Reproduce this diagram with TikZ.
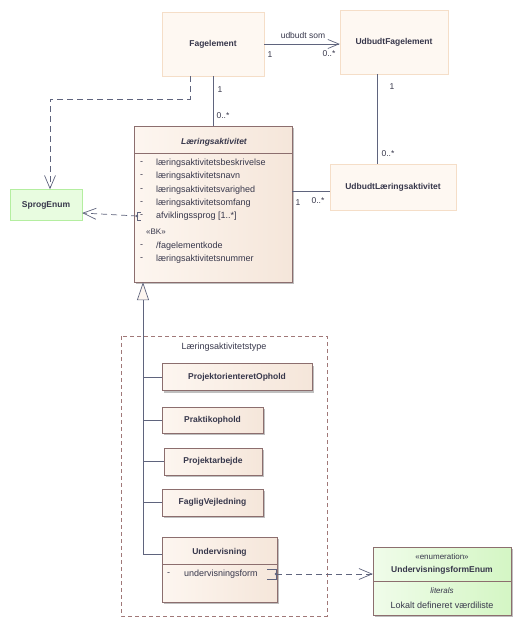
\documentclass[tikz,border=0pt]{standalone}
\usepackage{fontspec}
\setmainfont{Liberation Sans}
\usetikzlibrary{arrows.meta, shadows}
\definecolor{txt}{RGB}{55, 55, 75}
\definecolor{wire}{RGB}{95, 100, 125}
\definecolor{plainfill}{RGB}{254, 248, 242}
\definecolor{plainborder}{RGB}{245, 222, 200}
\definecolor{classlight}{RGB}{253, 246, 240}
\definecolor{classfill}{RGB}{245, 230, 218}
\definecolor{classborder}{RGB}{140, 110, 110}
\definecolor{greenfill}{RGB}{232, 252, 224}
\definecolor{greenborder}{RGB}{180, 238, 160}
\definecolor{enumlight}{RGB}{240, 252, 234}
\definecolor{enumfill}{RGB}{212, 246, 196}
\definecolor{pkgborder}{RGB}{160, 120, 120}

\begin{document}
\begin{tikzpicture}[x=1pt, y=-1pt,
    every node/.style={text=txt, font=\fontsize{9}{10}\selectfont},
    plain/.style={rectangle, draw=plainborder, fill=plainfill,
                  font=\fontsize{8.5}{10}\selectfont\bfseries},
    green/.style={rectangle, draw=greenborder, fill=greenfill,
                  font=\fontsize{8.5}{10}\selectfont\bfseries},
    klasse/.style={rectangle, draw=classborder, left color=classlight, right color=classfill,
                   drop shadow={shadow xshift=2pt, shadow yshift=-2pt, fill=black, opacity=0.25},
                   font=\fontsize{8.5}{10}\selectfont\bfseries},
    attr/.style={anchor=west, inner sep=0pt},
    mult/.style={inner sep=0pt, font=\fontsize{8.5}{10}\selectfont},
    assoc/.style={draw=wire, line width=0.7pt},
    dep/.style={draw=wire, line width=0.7pt, dash pattern=on 6pt off 4pt,
                -{Straight Barb[length=13pt, width=11pt]}}]

    \useasboundingbox (0,0) rectangle (522,626);

    % Package
    \draw[pkgborder, line width=0.6pt, dash pattern=on 4pt off 3pt] (121,336) rectangle (327,616);
    \node (pkg) at (224,347) {Læringsaktivitetstype};

    % Classes
    \node[plain, minimum width=102pt, minimum height=64pt] (fag) at (213,44) {Fagelement};
    \node[plain, minimum width=108pt, minimum height=64pt] (ufag) at (394,42) {UdbudtFagelement};
    \node[plain, minimum width=126pt, minimum height=46pt] (ulakt) at (393,187) {UdbudtLæringsaktivitet};
    \node[green, minimum width=72pt, minimum height=31pt] (sprog) at (46,205) {SprogEnum};

    \node[klasse, minimum width=158pt, minimum height=156pt] (lakt) at (213,204) {};
    \draw[classborder] ([yshift=-27pt]lakt.north west) -- ([yshift=-27pt]lakt.north east);
    \node[font=\fontsize{8.5}{10}\selectfont\bfseries\itshape] at (214,142) {Læringsaktivitet};
    \node[attr] at (140,163) {-};
    \node[attr] at (156,163) {læringsaktivitetsbeskrivelse};
    \node[attr] at (140,176.5) {-};
    \node[attr] at (156,176.5) {læringsaktivitetsnavn};
    \node[attr] at (140,190) {-};
    \node[attr] at (156,190) {læringsaktivitetsvarighed};
    \node[attr] at (140,203) {-};
    \node[attr] at (156,203) {læringsaktivitetsomfang};
    \node[attr] at (140,216.5) {-};
    \node[attr] (afv) at (156,216.5) {afviklingssprog [1..*]};
    \node[attr, font=\fontsize{8}{10}\selectfont] at (146,232) {«BK»};
    \node[attr] at (140,246) {-};
    \node[attr] at (156,246) {/fagelementkode};
    \node[attr] at (140,259.5) {-};
    \node[attr] at (156,259.5) {læringsaktivitetsnummer};
    \draw[wire, line width=0.6pt] (141,212) -- (137,212) -- (137,220) -- (141,220);
    \coordinate (afvport) at (137,216);

    % Subtypes
    \node[klasse, minimum width=150pt, minimum height=27pt] (projoph) at (237,377) {ProjektorienteretOphold};
    \node[klasse, minimum width=101pt, minimum height=26pt] (praktik) at (212.5,420) {Praktikophold};
    \node[klasse, minimum width=98pt, minimum height=27pt] (projarb) at (213,461.5) {Projektarbejde};
    \node[klasse, minimum width=101pt, minimum height=27pt] (fagvej) at (212.5,502.5) {FagligVejledning};

    \node[klasse, minimum width=115pt, minimum height=65pt] (und) at (219.5,569.5) {};
    \draw[classborder] ([yshift=-27pt]und.north west) -- ([yshift=-27pt]und.north east);
    \node at (219.5,552) {\bfseries\fontsize{8.5}{10}\selectfont Undervisning};
    \node[attr] at (167,574) {-};
    \node[attr] at (184,574) {undervisningsform};
    \draw[wire, line width=0.6pt] (267,569) -- (276,569) -- (276,579) -- (267,579);
    \coordinate (undport) at (276,574);

    % Enumeration
    \node[rectangle, draw=classborder, left color=enumlight, right color=enumfill,
          drop shadow={shadow xshift=2pt, shadow yshift=-2pt, fill=black, opacity=0.25},
          minimum width=138pt, minimum height=68pt] (uenum) at (442,581) {};
    \draw[classborder] ([yshift=-34pt]uenum.north west) -- ([yshift=-34pt]uenum.north east);
    \node[font=\fontsize{8}{10}\selectfont] at (442,557) {«enumeration»};
    \node at (442,570) {\bfseries\fontsize{8.5}{10}\selectfont UndervisningsformEnum};
    \node[font=\fontsize{8}{10}\selectfont\itshape] at (442,591) {literals};
    \node at (442,605) {Lokalt defineret værdiliste};

    % Associations
    \draw[assoc, -{Straight Barb[length=11pt, width=9pt]}] (fag.east) -- (fag.east -| ufag.west);
    \node[mult] at (303,35) {udbudt som};
    \node[mult] at (270,55) {1};
    \node[mult] at (329,54) {0..*};
    \draw[assoc] (fag.south) -- (lakt.north);
    \node[mult] at (220,90) {1};
    \node[mult] at (223,116) {0..*};
    \draw[assoc] ([xshift=-17pt]ufag.south) -- ([xshift=-16pt]ulakt.north);
    \node[mult] at (392,87) {1};
    \node[mult] at (388,154) {0..*};
    \draw[assoc] ([yshift=-4pt]ulakt.west -| lakt.east) -- ([yshift=-4pt]ulakt.west);
    \node[mult] at (298,203) {1};
    \node[mult] at (318,201) {0..*};

    % Dependencies
    \draw[dep] ([xshift=-23pt]fag.south) -- ++(0,23) -| ([xshift=4pt]sprog.north);
    \fill[wire] (afvport) circle (1.3pt);
    \draw[dep] (afvport) -- ([yshift=-8pt]sprog.east);
    \fill[wire] (undport) circle (1.3pt);
    \draw[dep] (undport) -- (uenum.west |- undport);

    % Generalization
    \coordinate (gen) at ([xshift=-70pt]lakt.south);
    \draw[assoc, -{Triangle[length=18pt, width=12pt, fill=classlight]}]
        ([yshift=15.5pt]und.west) -| (gen);
    \draw[assoc] (projoph.west) -- (projoph.west -| gen);
    \draw[assoc] (praktik.west) -- (praktik.west -| gen);
    \draw[assoc] (projarb.west) -- (projarb.west -| gen);
    \draw[assoc] (fagvej.west) -- (fagvej.west -| gen);
\end{tikzpicture}
\end{document}
